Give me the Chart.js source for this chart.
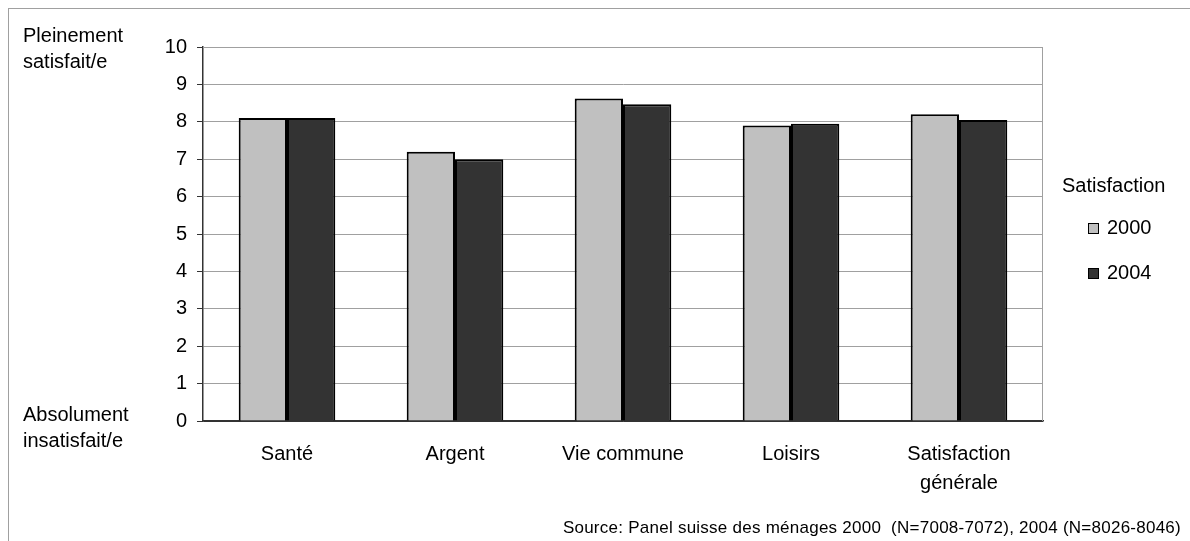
<!DOCTYPE html>
<html lang="fr">
<head>
    <meta charset="UTF-8">
    <title>Satisfaction 2000 / 2004</title>
    <script src="https://cdn.jsdelivr.net/npm/chart.js@4.4.0/dist/chart.umd.min.js"></script>
    <style>
        body { margin: 0; background: #fff; }
        #wrap { position: relative; width: 1190px; height: 541px; font-family: "Liberation Sans", Arial, sans-serif; color: #000; overflow: hidden; }
        #frame { position: absolute; left: 8px; top: 8px; width: 1200px; height: 600px; border-top: 1px solid #a0a0a0; border-left: 1px solid #a0a0a0; }
        canvas { position: absolute; left: 0; top: 0; }
        .txt { position: absolute; font-size: 20px; line-height: 26px; white-space: nowrap; }
        .box { position: absolute; width: 9px; height: 9px; border: 1.5px solid #000; }
        #source { position: absolute; right: 9px; top: 518px; font-size: 17px; line-height: 20px; letter-spacing: 0.25px; white-space: nowrap; }
    </style>
</head>
<body>
<div id="wrap">
    <div id="frame"></div>
    <canvas id="chart" width="1190" height="541"></canvas>

    <div class="txt" style="left: 23px; top: 22px;">Pleinement<br>satisfait/e</div>
    <div class="txt" style="left: 23px; top: 401px;">Absolument<br>insatisfait/e</div>

    <div class="txt" style="left: 1062px; top: 172px;">Satisfaction</div>
    <div class="box" style="left: 1088px; top: 223px; background: #c0c0c0;"></div>
    <div class="txt" style="left: 1107px; top: 214px;">2000</div>
    <div class="box" style="left: 1088px; top: 268px; background: #333333;"></div>
    <div class="txt" style="left: 1107px; top: 259px;">2004</div>

    <div id="source">Source: Panel suisse des ménages 2000 &nbsp;(N=7008-7072), 2004 (N=8026-8046)</div>
</div>

<script>
    // domains of satisfaction (scale 0 - 10)
    var categories = ["Santé", "Argent", "Vie commune", "Loisirs", ["Satisfaction", "générale"]];
    var values2000 = [8.1, 7.2, 8.62, 7.9, 8.2];
    var values2004 = [8.1, 7.0, 8.47, 7.95, 8.05];
    var yTicks = [0, 1, 2, 3, 4, 5, 6, 7, 8, 9, 10];

    // gray frame on the top and right of the plot area
    var plotBorder = {
        id: 'plotBorder',
        beforeDatasetsDraw: function(chart) {
            var a = chart.chartArea;
            var ctx = chart.ctx;
            ctx.save();
            ctx.strokeStyle = '#a0a0a0';
            ctx.lineWidth = 1;
            ctx.beginPath();
            ctx.moveTo(a.left, a.top + 0.5);
            ctx.lineTo(a.right - 0.5, a.top + 0.5);
            ctx.lineTo(a.right - 0.5, a.bottom);
            ctx.stroke();
            ctx.restore();
        }
    };

    var ctx = document.getElementById('chart').getContext('2d');
    var chart = new Chart(ctx, {
        type: 'bar',
        data: {
            labels: categories,
            datasets: [
                {
                    label: '2000',
                    data: values2000,
                    backgroundColor: '#c0c0c0',
                    borderColor: '#000',
                    borderWidth: 2
                },
                {
                    label: '2004',
                    data: values2004,
                    backgroundColor: '#333333',
                    borderColor: '#000',
                    borderWidth: 2
                }
            ]
        },
        options: {
            responsive: false,
            animation: false,
            layout: { padding: { top: 47, right: 147, left: 0, bottom: 0 } },
            plugins: {
                legend: { display: false },
                tooltip: { enabled: false }
            },
            datasets: {
                bar: { categoryPercentage: 0.575, barPercentage: 1.0 }
            },
            scales: {
                x: {
                    grid: { display: false, drawTicks: false },
                    border: { color: '#333', width: 1.5 },
                    ticks: {
                        color: '#000',
                        padding: 19,
                        maxRotation: 0,
                        autoSkip: false,
                        font: { family: '"Liberation Sans", Arial, sans-serif', size: 20, lineHeight: 1.45 }
                    },
                    afterFit: function(scale) { scale.height = 120; }
                },
                y: {
                    min: 0,
                    max: 10,
                    afterBuildTicks: function(scale) {
                        scale.ticks = yTicks.map(function(v) { return { value: v }; });
                    },
                    grid: {
                        color: function(c) { return c.tick && c.tick.value === 0 ? '#333' : '#a0a0a0'; },
                        tickColor: '#333',
                        tickLength: 6,
                        lineWidth: 1
                    },
                    border: { color: '#333', width: 1.5 },
                    ticks: {
                        color: '#000',
                        padding: 10,
                        font: { family: '"Liberation Sans", Arial, sans-serif', size: 20 }
                    },
                    afterFit: function(scale) { scale.width = 203; }
                }
            }
        },
        plugins: [plotBorder]
    });
</script>
</body>
</html>
